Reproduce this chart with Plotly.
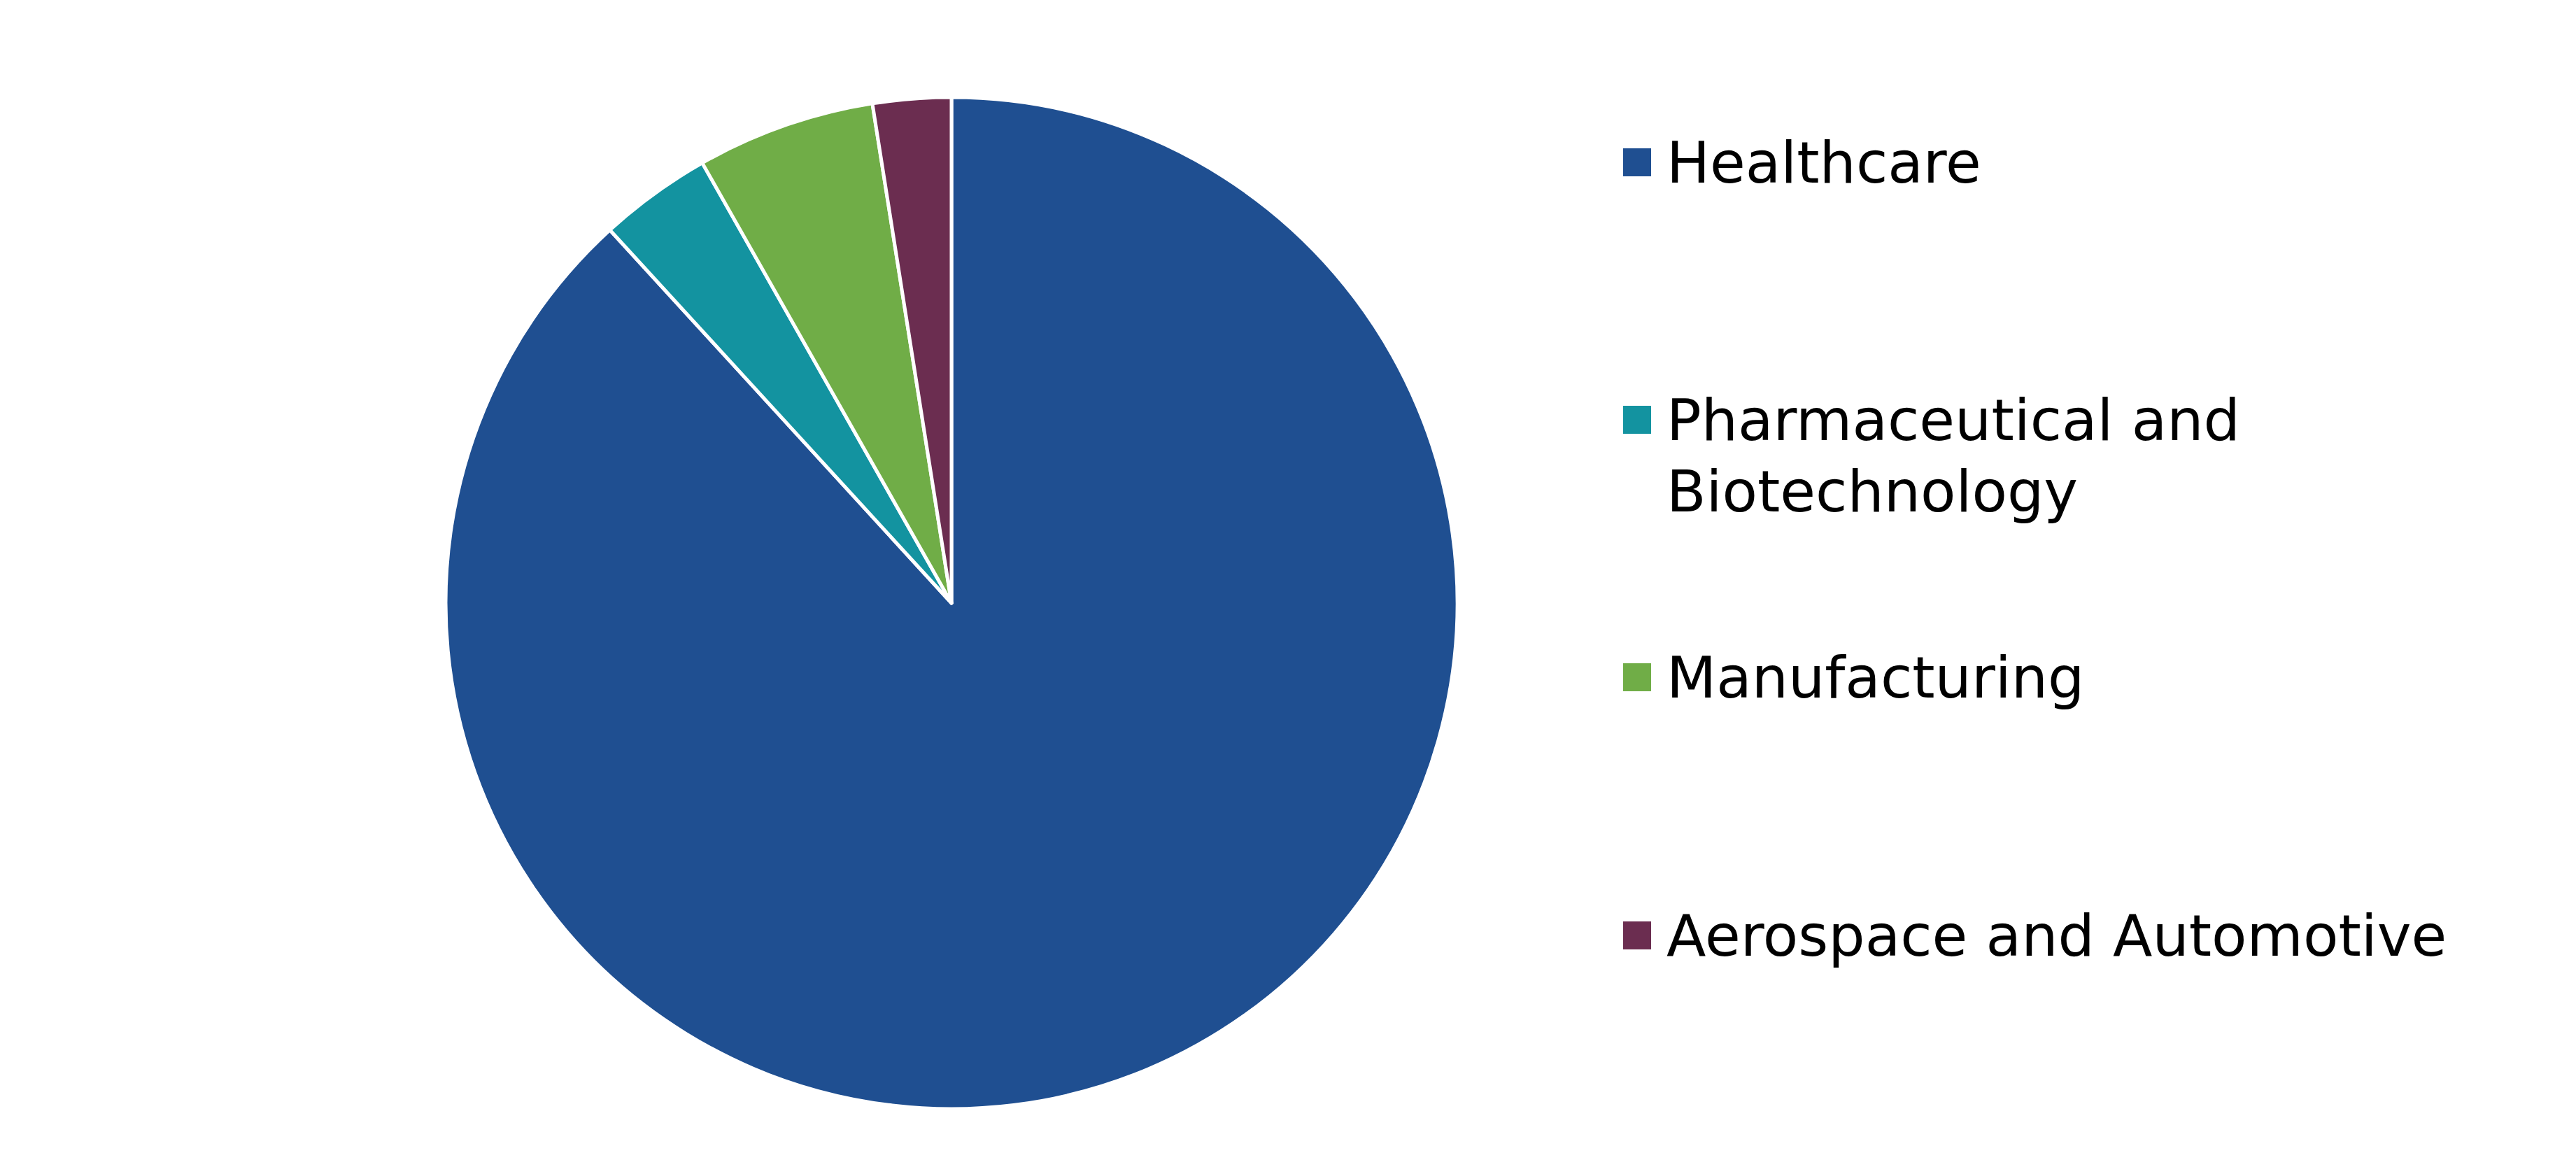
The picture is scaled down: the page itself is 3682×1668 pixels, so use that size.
import plotly.graph_objects as go

# sector split (percent)
sectors = ["Healthcare", "Pharmaceutical and<br>Biotechnology", "Manufacturing", "Aerospace and Automotive"]
shares = [88.2, 3.6, 5.7, 2.5]
colors = ["#1F4F91", "#1393A0", "#70AD47", "#6B2D50"]

W, H = 3682, 1668
FONT = "DejaVu Sans, Verdana, sans-serif"
FS = 82.5

fig = go.Figure(go.Pie(
    labels=sectors,
    values=shares,
    marker=dict(colors=colors, line=dict(color="white", width=5)),
    sort=False,
    direction="clockwise",
    rotation=0,
    textinfo="none",
    hoverinfo="label+percent",
    showlegend=False,
    domain=dict(x=[637 / W, 2083 / W], y=[83 / H, 1529 / H]),
))

# legend drawn by hand so the big squares and wide spacing match the original
leg_x_box = 2320
leg_x_text = 2380
box = 40
row_y = [232, 600, 968, 1337]  # centre of first text line, pixels from top
line_pitch = 102

shapes = []
annotations = []
for lab, col, yc in zip(sectors, colors, row_y):
    shapes.append(dict(
        type="rect", xref="paper", yref="paper",
        x0=leg_x_box / W, x1=(leg_x_box + box) / W,
        y0=1 - (yc + box / 2) / H, y1=1 - (yc - box / 2) / H,
        fillcolor=col, line=dict(width=0),
    ))
    # one annotation per text line so the line spacing matches
    for i, line in enumerate(lab.split("<br>")):
        annotations.append(dict(
            text=line, xref="paper", yref="paper",
            x=leg_x_text / W, y=1 - (yc + i * line_pitch) / H,
            xanchor="left", yanchor="middle", align="left",
            showarrow=False, font=dict(family=FONT, size=FS, color="black"),
        ))

fig.update_layout(
    width=W, height=H,
    margin=dict(l=0, r=0, t=0, b=0),
    paper_bgcolor="white",
    plot_bgcolor="white",
    font=dict(family=FONT, size=FS, color="black"),
    shapes=shapes,
    annotations=annotations,
)

# drop the default body margin so the figure sits flush in the window
fig.write_html("out.html", config={"displayModeBar": False},
               post_script="document.body.style.margin='0';")
